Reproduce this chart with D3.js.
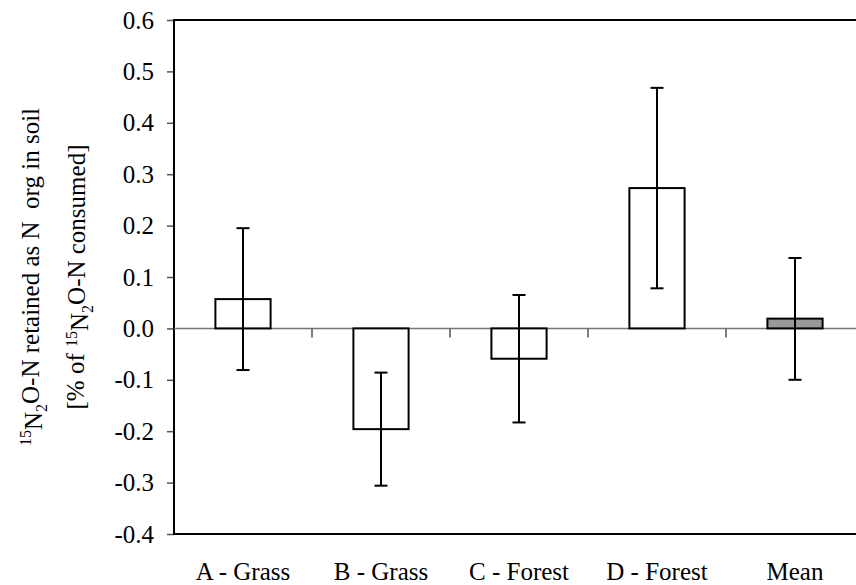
<!DOCTYPE html>
<html>
<head>
<meta charset="utf-8">
<script src="https://cdn.jsdelivr.net/npm/d3@7"></script>
<style>
  body { margin: 0; background: #fff; }
  svg { display: block; }
  svg text { font-family: "Liberation Serif", "Times New Roman", serif; }
</style>
</head>
<body>
<div id="chart"></div>
<script>
// data
var sites = ["A - Grass", "B - Grass", "C - Forest", "D - Forest", "Mean"];
var retained = [0.057, -0.196, -0.059, 0.273, 0.019];
var errLow = [-0.081, -0.306, -0.183, 0.078, -0.100];
var errHigh = [0.195, -0.086, 0.065, 0.468, 0.137];
var yTicks = [0.6, 0.5, 0.4, 0.3, 0.2, 0.1, 0.0, -0.1, -0.2, -0.3, -0.4];

var width = 856, height = 585;
var serif = '"Liberation Serif", "Times New Roman", serif';
// plot box (the right edge falls outside the page, as in the original)
var plotLeft = 174, plotRight = 864, plotTop = 20, plotBottom = 534;

var svg = d3.select("#chart")
    .append("svg")
    .attr("width", width)
    .attr("height", height)
    .style("font-family", serif);

// scales
var x = d3.scaleBand()
    .domain(sites)
    .range([plotLeft, plotRight])
    .paddingInner(0.6)
    .paddingOuter(0.3);

var y = d3.scaleLinear().domain([-0.4, 0.6]).range([plotBottom, plotTop]);

// y axis with outside ticks
var yAxis = svg.append("g")
    .attr("transform", "translate(" + plotLeft + ",0)")
    .call(d3.axisLeft(y).tickValues(yTicks).tickSize(7).tickPadding(13)
        .tickFormat(function (d) { return d3.format(".1f")(d).replace("−", "-"); }));
yAxis.attr("font-family", serif).attr("font-size", 25);
yAxis.select(".domain").remove();
yAxis.selectAll(".tick line").attr("stroke", "#555").attr("stroke-width", 1.5);
yAxis.selectAll(".tick text")
    .style("font-family", serif)
    .style("font-size", "25px")
    .attr("fill", "#000");

// frame: top, bottom and left lines
svg.append("line")
    .attr("x1", plotLeft).attr("x2", width)
    .attr("y1", y(0.6)).attr("y2", y(0.6))
    .attr("stroke", "#000").attr("stroke-width", 2);
svg.append("line")
    .attr("x1", plotLeft).attr("x2", width)
    .attr("y1", y(-0.4)).attr("y2", y(-0.4))
    .attr("stroke", "#000").attr("stroke-width", 2);
svg.append("line")
    .attr("x1", plotLeft).attr("x2", plotLeft)
    .attr("y1", y(0.6) - 1).attr("y2", y(-0.4) + 1)
    .attr("stroke", "#000").attr("stroke-width", 2);

// zero line with category boundary ticks
svg.append("line")
    .attr("x1", plotLeft).attr("x2", width)
    .attr("y1", y(0)).attr("y2", y(0))
    .attr("stroke", "#777").attr("stroke-width", 1.5);

svg.append("g")
    .selectAll("line")
    .data(sites.slice(1))
    .enter()
    .append("line")
    .attr("x1", function (d) { return x(d) - x.step() * x.paddingInner() / 2; })
    .attr("x2", function (d) { return x(d) - x.step() * x.paddingInner() / 2; })
    .attr("y1", y(0))
    .attr("y2", y(0) + 9)
    .attr("stroke", "#555")
    .attr("stroke-width", 1.5);

// bars
svg.append("g")
    .selectAll("rect")
    .data(retained)
    .enter()
    .append("rect")
    .attr("x", function (d, i) { return x(sites[i]); })
    .attr("width", x.bandwidth())
    .attr("y", function (d) { return y(Math.max(d, 0)); })
    .attr("height", function (d) { return Math.abs(y(d) - y(0)); })
    .attr("fill", function (d, i) { return sites[i] == "Mean" ? "#999999" : "#fff"; })
    .attr("stroke", "#000")
    .attr("stroke-width", 2);

// error bars
var err = svg.append("g")
    .selectAll("g")
    .data(sites)
    .enter()
    .append("g")
    .attr("stroke", "#000")
    .attr("stroke-width", 2);

err.append("line")
    .attr("x1", function (d) { return x(d) + x.bandwidth() / 2; })
    .attr("x2", function (d) { return x(d) + x.bandwidth() / 2; })
    .attr("y1", function (d, i) { return y(errHigh[i]); })
    .attr("y2", function (d, i) { return y(errLow[i]); });

err.append("line")
    .attr("x1", function (d) { return x(d) + x.bandwidth() / 2 - 6.5; })
    .attr("x2", function (d) { return x(d) + x.bandwidth() / 2 + 6.5; })
    .attr("y1", function (d, i) { return y(errHigh[i]); })
    .attr("y2", function (d, i) { return y(errHigh[i]); });

err.append("line")
    .attr("x1", function (d) { return x(d) + x.bandwidth() / 2 - 6.5; })
    .attr("x2", function (d) { return x(d) + x.bandwidth() / 2 + 6.5; })
    .attr("y1", function (d, i) { return y(errLow[i]); })
    .attr("y2", function (d, i) { return y(errLow[i]); });

// category labels
svg.append("g")
    .selectAll("text")
    .data(sites)
    .enter()
    .append("text")
    .attr("x", function (d) { return x(d) + x.bandwidth() / 2; })
    .attr("y", 579.5)
    .attr("text-anchor", "middle")
    .style("font-family", serif)
    .style("font-size", "25px")
    .text(function (d) { return d; });

// y axis label, two lines with super/subscripts
var midY = (plotTop + plotBottom) / 2;

var l1 = svg.append("text")
    .attr("transform", "translate(38," + midY + ") rotate(-90)")
    .attr("text-anchor", "middle")
    .style("font-family", serif)
    .style("font-size", "25px")
    .style("white-space", "pre");
l1.append("tspan").attr("dy", "-0.45em").style("font-size", "16px").text("15");
l1.append("tspan").attr("dy", "0.45em").text("N");
l1.append("tspan").attr("dy", "0.3em").style("font-size", "16px").text("2");
l1.append("tspan").attr("dy", "-0.3em").text("O-N retained as N  org in soil");

var l2 = svg.append("text")
    .attr("transform", "translate(84," + midY + ") rotate(-90)")
    .attr("text-anchor", "middle")
    .style("font-family", serif)
    .style("font-size", "25px");
l2.append("tspan").text("[% of ");
l2.append("tspan").attr("dy", "-0.45em").style("font-size", "16px").text("15");
l2.append("tspan").attr("dy", "0.45em").text("N");
l2.append("tspan").attr("dy", "0.3em").style("font-size", "16px").text("2");
l2.append("tspan").attr("dy", "-0.3em").text("O-N consumed]");
</script>
</body>
</html>
